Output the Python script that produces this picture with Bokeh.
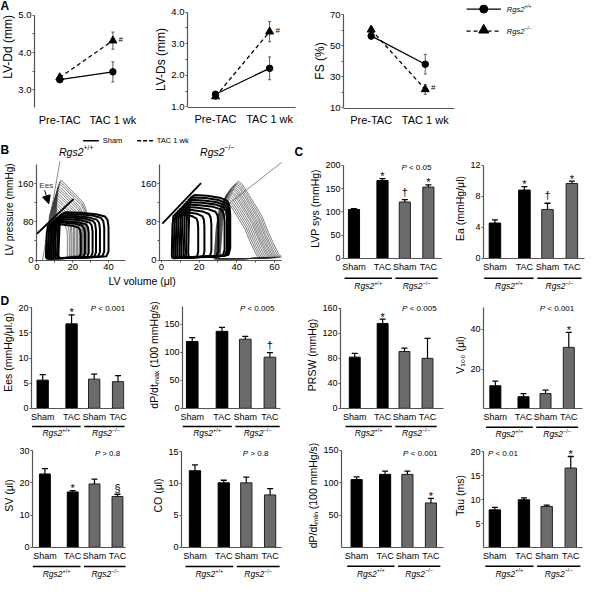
import math
from bokeh.plotting import figure
from bokeh.models import Range1d, FixedTicker, Label, Arrow, NormalHead, PrintfTickFormatter
from bokeh.layouts import row, column
from bokeh.embed import file_html
from bokeh.resources import INLINE

# ---------------- DATA ----------------
# Panel A (echo): mean and SEM, Pre-TAC / TAC 1 wk
a_x = [0, 1]
a_labels = ["Pre-TAC", "TAC 1 wk"]
lvdd_wt = [3.27, 3.48]
lvdd_wt_err = [0.06, 0.27]
lvdd_ko = [3.33, 4.32]
lvdd_ko_err = [0.08, 0.23]
lvds_wt = [1.40, 2.22]
lvds_wt_err = [0.07, 0.36]
lvds_ko = [1.33, 3.38]
lvds_ko_err = [0.09, 0.32]
fs_wt = [56.3, 38.1]
fs_wt_err = [2.2, 6.3]
fs_ko = [60.3, 21.9]
fs_ko_err = [1.8, 3.2]

# Panel B: PV loops, each loop described by ESV, EDV (ul) and top pressure (mmHg)
sham_wt_esv = [12.0, 11.2, 10.1, 9.2, 8.1, 7.2, 6.1, 5.0]
sham_wt_edv = [40.0, 37.6, 35.2, 33.0, 31.1, 28.9, 26.8, 24.5]
sham_wt_p = [100, 97, 93, 90, 86, 82, 79, 75]
tac_wt_esv = [9.6, 9.3, 9.0, 8.8, 8.5, 8.2, 8.0, 7.7, 7.4, 7.1, 6.9, 6.6, 6.3, 6.0, 5.8, 5.5]
tac_wt_edv = [28.0, 27.5, 27.0, 26.1, 25.5, 25.0, 24.1, 23.5, 22.6, 22.0, 21.1, 20.5, 19.6, 19.0, 18.1, 17.0]
tac_wt_p = [167, 163, 159, 154, 150, 146, 141, 137, 132, 128, 123, 119, 114, 110, 105, 100]
sham_ko_esv = [14.2, 13.0, 11.8, 10.6, 9.6, 8.5, 7.5, 6.5, 5.5]
sham_ko_edv = [36.5, 36.0, 35.4, 34.8, 33.5, 30.2, 26.5, 22.8, 19.5]
sham_ko_p = [136, 131, 126, 121, 116, 111, 106, 101, 96]
tac_ko_esv = [31.0, 30.8, 30.5, 30.3, 30.0, 29.7, 29.5, 29.2, 29.0, 28.7, 28.5, 28.2, 28.0, 27.8]
tac_ko_edv = [64.0, 63.0, 62.0, 61.2, 60.3, 59.5, 58.6, 57.8, 57.0, 56.0, 55.0, 54.0, 53.0, 52.0]
tac_ko_p = [165, 162, 159, 156, 152, 149, 146, 142, 139, 135, 131, 127, 123, 119]
# ESPVR lines (volume, pressure end points)
espvr_wt_sham = ([0.0, 20.5], [55, 128])
espvr_wt_tac = ([3.1, 12.9], [0, 207])
espvr_ko_sham = ([0.5, 21.0], [76, 161])
espvr_ko_tac = ([30.0, 64.0], [100, 205])
ees_arrow = ([4.3, 146], [6.6, 118])

# Panels C, D (bars): Rgs2+/+ Sham, TAC, Rgs2-/- Sham, TAC
bar_labels = ["Sham", "TAC", "Sham", "TAC"]
lvp_sys = [105, 167, 121, 153]
lvp_sys_err = [1.5, 4, 5, 5]
ea = [4.55, 8.8, 6.3, 9.65]
ea_err = [0.4, 0.45, 0.8, 0.3]
ees = [5.6, 16.8, 5.8, 5.3]
ees_err = [1.1, 1.8, 1.0, 1.2]
dpdt_max = [119, 137, 123, 91]
dpdt_max_err = [7, 7, 5, 8]
prsw = [82, 136, 91, 80]
prsw_err = [6, 7, 5.5, 32]
v100 = [11.6, 6.1, 7.7, 30.9]
v100_err = [2.3, 1.6, 1.7, 7.5]
sv = [22.8, 17.2, 19.7, 15.8]
sv_err = [1.7, 0.4, 1.5, 0.7]
co = [12.0, 10.1, 10.1, 8.2]
co_err = [0.9, 0.4, 0.9, 1.0]
dpdt_min = [105, 113, 113, 69]
dpdt_min_err = [4, 5, 5, 7]
tau = [7.9, 10.0, 8.6, 16.6]
tau_err = [0.5, 0.4, 0.3, 2.4]

# ---------------- LAYOUT HELPERS ----------------
FONT = "Liberation Sans"
bar_pos = [0.0, 1.15, 2.05, 3.0]

SX = 585.0 / 595.0
SY = 579.0 / 586.0
def LX(x): return int(round((x - 3) * SX))
def LY(y): return int(round((y - 4) * SY))
def rl(x): return (x - 3) * SX
def rt(y): return (y - 4) * SY

WEM = {' ': .278, '(': .333, ')': .333, '.': .278, '/': .278, '-': .333, '<': .584, '>': .584,
       'A': .667, 'B': .667, 'C': .722, 'D': .722, 'E': .667, 'F': .611, 'H': .722, 'L': .556,
       'O': .778, 'P': .667, 'R': .722, 'S': .667, 'T': .611, 'V': .667, 'W': .944,
       'a': .556, 'd': .556, 'e': .556, 'g': .556, 'h': .556, 'i': .222, 'k': .5, 'l': .222,
       'm': .833, 'n': .556, 'o': .556, 'p': .556, 'r': .333, 's': .5, 't': .278, 'u': .556,
       'v': .5, 'x': .5, 'y': .5, 'μ': .576, '%': .889, '+': .584, '−': .584, '#': .556}
def tw(s, size):
    return sum(WEM.get(c, 0.556) for c in s) * size

def rng(l0, l1, a, la, b, lb):
    k = (b - a) / (lb - la)
    return (a + (l0 - la) * k, a + (l1 - la) * k)

class Pn:
    def __init__(self, fig_x, fig_y, frame_x=None, frame_y=None, xr=(0, 1), yr=(0, 1), xaxis=False, yaxis=False):
        frame_x = frame_x or fig_x
        frame_y = frame_y or fig_y
        self.fx0, self.fx1 = LX(fig_x[0]), LX(fig_x[1])
        self.fy0, self.fy1 = LY(fig_y[0]), LY(fig_y[1])
        self.lx0, self.lx1 = LX(frame_x[0]), LX(frame_x[1])
        self.ly0, self.ly1 = LY(frame_y[0]), LY(frame_y[1])
        if callable(xr): xr = xr(self)
        if callable(yr): yr = yr(self)
        xro = xr if isinstance(xr, Range1d) else Range1d(*xr)
        yro = yr if isinstance(yr, Range1d) else Range1d(*yr)
        self.xr = (xro.start, xro.end)
        self.yr = (yro.start, yro.end)
        p = figure(width=self.fx1 - self.fx0, height=self.fy1 - self.fy0,
                   x_range=xro, y_range=yro,
                   output_backend="svg", toolbar_location=None, frame_align=False,
                   min_border_left=self.lx0 - self.fx0, min_border_right=self.fx1 - self.lx1,
                   min_border_top=self.ly0 - self.fy0, min_border_bottom=self.fy1 - self.ly1,
                   x_axis_location="below" if xaxis else None,
                   y_axis_location="left" if yaxis else None)
        p.outline_line_color = None
        p.grid.visible = False
        p.background_fill_color = "white"
        p.border_fill_color = "white"
        self.p = p
    def dx(self, lx):
        return self.xr[0] + (lx - self.lx0) / (self.lx1 - self.lx0) * (self.xr[1] - self.xr[0])
    def dy(self, ly):
        return self.yr[0] + (self.ly1 - ly) / (self.ly1 - self.ly0) * (self.yr[1] - self.yr[0])
    def lx(self, x):
        return self.lx0 + (x - self.xr[0]) / (self.xr[1] - self.xr[0]) * (self.lx1 - self.lx0)
    def ly(self, y):
        return self.ly1 - (y - self.yr[0]) / (self.yr[1] - self.yr[0]) * (self.ly1 - self.ly0)

def T(P, lx, ly, text, size, style="normal", align="center", base="middle", color="black", angle=0.0):
    P.p.add_layout(Label(x=P.dx(lx), y=P.dy(ly), text=text, text_font=FONT,
                         text_font_size="%.1fpx" % size, text_font_style=style,
                         text_align=align, text_baseline=base, text_color=color, angle=angle))

def HT(P, cx, cy, parts, align="center"):
    ws = [tw(t, s) for t, s, st, d in parts]
    x = cx - sum(ws) / 2 if align == "center" else cx
    for (t, s, st, d), w in zip(parts, ws):
        lead = len(t) - len(t.lstrip(" "))
        T(P, x + tw(" " * lead, s), cy + d, t.lstrip(" "), s, st, "left")
        x += w

def geno(sup, size=8.5):
    return [("Rgs2", size, "italic", 0), (sup, size * 0.65, "normal", -size * 0.38)]

AX = "#555555"
def style_y(p, ticks, bounds=None, minor=None, size="9px", fmt=None, overrides=None,
            label=None, lsize="11px", lstand=1, tick_out=2, standoff=1):
    ax = p.yaxis[0]
    ax.ticker = FixedTicker(ticks=ticks, minor_ticks=minor or [])
    if bounds is not None:
        ax.bounds = bounds
    ax.axis_line_color = AX
    ax.axis_line_width = 1.2
    ax.major_tick_line_color = AX
    ax.major_tick_out = tick_out
    ax.major_tick_in = 0
    ax.minor_tick_line_color = AX
    ax.minor_tick_out = 2
    ax.minor_tick_in = 0
    ax.major_label_text_font = FONT
    ax.major_label_text_font_size = size
    ax.major_label_standoff = standoff
    ax.major_label_text_color = "black"
    if fmt:
        ax.formatter = PrintfTickFormatter(format=fmt)
    if overrides:
        ax.major_label_overrides = overrides
    if label:
        ax.axis_label = label
        ax.axis_label_text_font = FONT
        ax.axis_label_text_font_size = lsize
        ax.axis_label_text_font_style = "normal"
        ax.axis_label_text_color = "black"
        ax.axis_label_standoff = lstand

def style_x(p, ticks, overrides, size="10px", line=True, tick_out=2, standoff=1):
    ax = p.xaxis[0]
    ax.ticker = FixedTicker(ticks=ticks)
    ax.major_label_overrides = overrides
    ax.axis_line_color = AX if line else None
    ax.axis_line_width = 1.2
    ax.major_tick_line_color = AX if tick_out else None
    ax.major_tick_out = tick_out
    ax.major_tick_in = 0
    ax.minor_tick_line_color = None
    ax.major_label_text_font = FONT
    ax.major_label_text_font_size = size
    ax.major_label_standoff = standoff
    ax.major_label_text_color = "black"

# ---------------- PANEL A (band y 4..137) ----------------
def a_panel(fig_x, fig_y, frame_x, frame_y, ya, ya_ref, yb, yb_ref, bounds, pre_ref, tac_ref,
            wt, wte, ko, koe, yticks, yminor, fmt, ylab, xline=True):
    P = Pn(fig_x, fig_y, frame_x, frame_y,
           lambda s: rng(s.lx0, s.lx1, 0, rl(pre_ref), 1, rl(tac_ref)),
           lambda s: rng(s.ly1, s.ly0, ya, rt(ya_ref), yb, rt(yb_ref)), xaxis=True, yaxis=True)
    p = P.p
    style_y(p, yticks, bounds=bounds, minor=yminor, size="9.5px", fmt=fmt, label=ylab, lsize="12px", lstand=0)
    style_x(p, [0, 1], {0: a_labels[0], 1: a_labels[1]}, size="11px", line=xline, tick_out=0, standoff=5)
    for vals, errs in ((wt, wte), (ko, koe)):
        lo = [v - e for v, e in zip(vals, errs)]
        hi = [v + e for v, e in zip(vals, errs)]
        p.segment(a_x, lo, a_x, hi, line_color="#333333", line_width=0.8)
        p.scatter(a_x + a_x, lo + hi, marker="dash", size=3, line_color="#333333", line_width=0.8)
    p.line(a_x, wt, line_color="black", line_width=1.3)
    p.line(a_x, ko, line_color="black", line_width=1.3, line_dash="4 3")
    p.scatter(a_x, wt, marker="circle", size=6.5, color="black")
    p.scatter(a_x, ko, marker="triangle", size=8, color="black")
    T(P, P.lx(1) + 8, P.ly(ko[1]) - 1.5, "#", 8)
    return P

ASL = Pn((3, 18), (4, 137))
T(ASL, rl(3), rt(9.5), "A", 12, "bold", "left")
T(ASL, rl(10.5), rt(51), "LV-Dd (mm)", 12, angle=math.pi / 2)
A1 = a_panel((18, 153), (4, 137), (36, 152), (18, 113), 3.0, 94.3, 5.0, 19, (2.53, 5.0), 61.7, 116.7,
             lvdd_wt, lvdd_wt_err, lvdd_ko, lvdd_ko_err, [3.0, 4.0, 5.0], [3.5, 4.5], "%.1f",
             None, xline=False)
A2 = a_panel((153, 310), (4, 137), (193, 303), (14.7, 112.7), 1.0, 111.7, 4.0, 15.7, (1.0, 4.0), 221.7, 276.7,
             lvds_wt, lvds_wt_err, lvds_ko, lvds_ko_err, [1.0, 2.0, 3.0, 4.0], [1.5, 2.5, 3.5], "%.1f",
             "LV-Ds (mm)")
A3 = a_panel((310, 468), (4, 137), (352, 465), (17.3, 113.7), 10, 112.7, 70, 18.3, (10, 70), 380, 435,
             fs_wt, fs_wt_err, fs_ko, fs_ko_err, [10, 30, 50, 70], [20, 40, 60], None,
             "FS (%)")

LG = Pn((468, 598), (4, 137))
lp = LG.p
lp.line([LG.dx(rl(477)), LG.dx(rl(512))], [LG.dy(rt(12.7))] * 2, line_color="black", line_width=1.3)
lp.scatter([LG.dx(rl(494.5))], [LG.dy(rt(12.7))], marker="circle", size=8, color="black")
lp.line([LG.dx(rl(477)), LG.dx(rl(512))], [LG.dy(rt(35))] * 2, line_color="black", line_width=1.3, line_dash="4 3")
lp.scatter([LG.dx(rl(494.5))], [LG.dy(rt(34))], marker="triangle", size=10, color="black")
HT(LG, rl(518), rt(12.7), geno("+/+", 7.5), align="left")
HT(LG, rl(518), rt(35), geno("−/−", 7.5), align="left")

band1 = row(ASL.p, A1.p, A2.p, A3.p, LG.p)

# ---------------- PANEL B (band y 137..299) ----------------
SHAM_U = [0.02, 0.30, 0.70, 0.96, 1.00, 1.00, 0.98, 0.93, 0.75, 0.45, 0.15, 0.06, 0.025, 0.01, 0.00, 0.02]
SHAM_V = [0.04, 0.05, 0.06, 0.08, 0.18, 0.70, 0.84, 0.91, 0.96, 0.99, 1.00, 0.96, 0.75, 0.40, 0.10, 0.04]
TAC1_U = [0.00, 0.40, 0.85, 1.00, 1.00, 0.97, 0.88, 0.70, 0.50, 0.32, 0.20, 0.13, 0.08, 0.04, 0.01, 0.00]
TAC1_V = [0.02, 0.03, 0.04, 0.08, 0.50, 0.64, 0.72, 0.80, 0.88, 0.96, 1.00, 0.93, 0.70, 0.40, 0.12, 0.02]
TAC2_U = [0.00, 0.50, 0.90, 1.00, 0.95, 0.88, 0.78, 0.68, 0.55, 0.45, 0.36, 0.30, 0.20, 0.10, 0.05, 0.02, 0.00]
TAC2_V = [0.02, 0.02, 0.03, 0.04, 0.07, 0.18, 0.35, 0.55, 0.72, 0.85, 0.96, 1.00, 0.93, 0.82, 0.55, 0.20, 0.02]

def loops(esv, edv, pk, tu, tv):
    xs, ys = [], []
    for a, b, c in zip(esv, edv, pk):
        xs.append([a + u * (b - a) for u in tu])
        ys.append([v * c for v in tv])
    return xs, ys

TS2 = Pn((3, 598), (137, 164))
T(TS2, rl(3), rt(155.5), "B", 12, "bold", "left")
T(TS2, rl(302), rt(157), "C", 12, "bold", "left")
HT(TS2, rl(80), rt(157), geno("+/+", 10.5))
HT(TS2, rl(223.5), rt(157), geno("−/−", 10.5))
TS2.p.line([TS2.dx(rl(87)), TS2.dx(rl(103))], [TS2.dy(rt(146))] * 2, line_color="black", line_width=1.4)
T(TS2, rl(107), rt(146), "Sham", 7.5, align="left")
TS2.p.line([TS2.dx(rl(142)), TS2.dx(rl(158))], [TS2.dy(rt(146))] * 2, line_color="black", line_width=1.4, line_dash="4 2")
T(TS2, rl(162), rt(146), "TAC 1 wk", 7.5, align="left")

def b_panel(fig_x, frame_x, x0_ref, xb, xb_ref, xticks, xover, ylab=None):
    P = Pn(fig_x, (164, 281), frame_x, (164, 266.7),
           lambda s: rng(s.lx0, s.lx1, 0, rl(x0_ref), xb, rl(xb_ref)),
           lambda s: rng(s.ly1, s.ly0, 0, rt(266.7), 160, rt(189.3)), xaxis=True, yaxis=True)
    style_y(P.p, [0, 40, 80, 120, 160], bounds=(0, 200), size="9.5px", overrides={40: "", 120: ""},
            label=ylab, lsize="10px", lstand=0)
    style_x(P.p, xticks, xover, size="9.5px")
    return P

B1 = b_panel((3, 131), (34, 130), 34, 40, 111.7, [0, 10, 20, 30, 40, 50], {10: "", 30: "", 50: ""},
             ylab="LV pressure (mmHg)")
p = B1.p
xs, ys = loops(tac_wt_esv, tac_wt_edv, tac_wt_p, TAC1_U, TAC1_V)
p.multi_line(xs, ys, line_color="#2a2a2a", line_width=0.6)
p.line(*espvr_wt_tac, line_color="#555555", line_width=0.7)
xs, ys = loops(sham_wt_esv, sham_wt_edv, sham_wt_p, SHAM_U, SHAM_V)
p.multi_line(xs, ys, line_color="black", line_width=2.0)
p.line(*espvr_wt_sham, line_color="black", line_width=1.8)
p.add_layout(Arrow(end=NormalHead(size=8, fill_color="black", line_color="black"),
                   x_start=ees_arrow[0][0], y_start=ees_arrow[0][1],
                   x_end=ees_arrow[1][0], y_end=ees_arrow[1][1], line_color="black", line_width=1))
T(B1, B1.lx(5.2), B1.ly(156), "Ees", 8, color="#333333")

B2 = b_panel((131, 300), (165, 288.5), 166.7, 60, 281.7, [0, 10, 20, 30, 40, 50, 60], {10: "", 30: "", 50: ""})
p = B2.p
xs, ys = loops(tac_ko_esv, tac_ko_edv, tac_ko_p, TAC2_U, TAC2_V)
p.multi_line(xs, ys, line_color="#2a2a2a", line_width=0.6)
p.line(*espvr_ko_tac, line_color="#555555", line_width=0.7)
xs, ys = loops(sham_ko_esv, sham_ko_edv, sham_ko_p, SHAM_U, SHAM_V)
p.multi_line(xs, ys, line_color="black", line_width=2.0)
p.line(*espvr_ko_sham, line_color="black", line_width=1.8)

BV = Pn((3, 300), (281, 299))
T(BV, rl(147), rt(288), "LV volume (μl)", 10.5)

# ---------------- BAR PANELS ----------------
def bar_panel(fig_x, fig_y0, main_bot, band_bot, frame_top, offs, frame_x, ytop_ref, yzero_ref, top,
              first_ref, last_ref, vals, errs, yticks, ylab, ptxt, ptxt_c, marks, lsize="10.5px"):
    M = Pn(fig_x, (fig_y0, main_bot), frame_x, (frame_top, yzero_ref),
           lambda s: rng(s.lx0, s.lx1, bar_pos[0], rl(first_ref), bar_pos[-1], rl(last_ref)),
           lambda s: rng(s.ly1, s.ly0, 0, rt(yzero_ref), top, rt(ytop_ref)),
           xaxis=True, yaxis=True)
    p = M.p
    style_y(p, yticks, bounds=(0, top), size="9px", label=ylab, lsize=lsize, lstand=1)
    style_x(p, bar_pos, {pos: lab for pos, lab in zip(bar_pos, bar_labels)}, size="9px",
            tick_out=0, standoff=3)
    p.vbar(x=bar_pos[:2], top=vals[:2], width=0.45, fill_color="black", line_color="black")
    p.vbar(x=bar_pos[2:], top=vals[2:], width=0.45, fill_color="#6b6b6b", line_color="#222222", line_width=1)
    tops = [v + e for v, e in zip(vals, errs)]
    p.segment(bar_pos, vals, bar_pos, tops, line_color="black", line_width=1.2)
    p.scatter(bar_pos, tops, marker="dash", size=6, line_color="black", line_width=1.3)
    for i, sym in marks.items():
        up = {"*": 2.5, "†": 8.0, "§": 6.5}[sym]
        T(M, M.lx(bar_pos[i]), M.ly(tops[i]) - up, sym, 11)
    if ptxt:
        HT(M, rl(ptxt_c[0]), rt(ptxt_c[1]), [("P", 8, "italic", 0), (ptxt, 8, "normal", 0)])
    G = Pn(fig_x, (main_bot, band_bot), frame_x, (main_bot, band_bot), xr=p.x_range, yr=(0, 1))
    uy = G.dy(rt(yzero_ref + offs[1]))
    G.p.segment([bar_pos[0] - 0.38, bar_pos[2] - 0.38], [uy, uy],
                [bar_pos[1] + 0.38, bar_pos[3] + 0.38], [uy, uy], line_color="black", line_width=1.5)
    HT(G, G.lx((bar_pos[0] + bar_pos[1]) / 2), rt(yzero_ref + offs[2]), geno("+/+"))
    HT(G, G.lx((bar_pos[2] + bar_pos[3]) / 2), rt(yzero_ref + offs[2]), geno("−/−"))
    return M, G

OC = (10, 20, 27.7)
O3 = (9.5, 18.5, 25.5)
O4 = (9, 17.5, 25)

C1 = bar_panel((300, 462), 164, 283, 299, 164, OC, (351.7, 451.7), 170.7, 265, 200, 362.5, 438.2,
               lvp_sys, lvp_sys_err, [0, 50, 100, 150, 200], "LVP sys (mmHg)",
               " < 0.05", (426, 173), {1: "*", 2: "†", 3: "*"})
C2 = bar_panel((462, 598), 164, 283, 299, 164, OC, (493.3, 596.7), 170.7, 265, 12, 505, 584,
               ea, ea_err, [0, 4, 8, 12], "Ea (mmHg/μl)",
               None, None, {1: "*", 2: "†", 3: "*"})

band2 = column(TS2.p, row(column(row(B1.p, B2.p), BV.p),
                          column(C1[0].p, C1[1].p), column(C2[0].p, C2[1].p)))

DSL = Pn((3, 18), (299, 451))
T(DSL, rl(3), rt(308), "D", 12, "bold", "left")
T(DSL, rl(10.5), rt(360), "Ees (mmHg/μl.g)", 10.5, angle=math.pi / 2)
D1 = bar_panel((18, 150), 299, 433, 451, 309, O3, (33.3, 129), 315, 416.7, 20, 45, 122.5,
               ees, ees_err, [0, 5, 10, 15, 20], None,
               " < 0.001", (112, 316), {1: "*"})
D2 = bar_panel((150, 310), 299, 433, 451, 309, O3, (188.3, 288), 313.3, 416.7, 182, 198, 277,
               dpdt_max, dpdt_max_err, [0, 50, 100, 150], "dP/dtₘₐₓ (100 mmHg/s)",
               " < 0.005", (264, 316), {3: "†"})
D3 = bar_panel((310, 462), 299, 433, 451, 309, O3, (349, 454), 315.7, 416.7, 160, 363.3, 437.3,
               prsw, prsw_err, [0, 40, 80, 120, 160], "PRSW (mmHg)",
               " < 0.005", (429, 316), {1: "*"})
D4 = bar_panel((462, 598), 299, 433, 451, 309, O3, (494.3, 595), 315, 417.3, 50.8, 506.3, 581,
               v100, v100_err, [0, 20, 40], "V₁₀₀ (μl)",
               " < 0.001", (569, 316), {3: "*"})

band3 = row(DSL.p, column(D1[0].p, D1[1].p), column(D2[0].p, D2[1].p),
            column(D3[0].p, D3[1].p), column(D4[0].p, D4[1].p))

D5 = bar_panel((3, 150), 451, 574, 590, 452, O4, (32.3, 130), 460, 559.3, 30, 45.5, 121.7,
               sv, sv_err, [0, 10, 20, 30], "SV (μl)",
               " > 0.8", (111, 463), {1: "*", 3: "§"})
D6 = bar_panel((150, 310), 451, 574, 590, 452, O4, (186.7, 288.3), 460.7, 559.3, 15, 200.8, 277.2,
               co, co_err, [0, 5, 10, 15], "CO (μl)",
               " > 0.8", (262.5, 463), {})
D7 = bar_panel((310, 462), 451, 574, 590, 452, O4, (350, 454), 459.3, 559, 150, 365.2, 440.8,
               dpdt_min, dpdt_min_err, [0, 50, 100, 150], "dP/dtₘᵢₙ (100 mmHg/s)",
               " < 0.001", (430, 463), {3: "*"})
D8 = bar_panel((462, 598), 451, 574, 590, 452, O4, (494.3, 595), 460.7, 559, 20, 505.8, 583,
               tau, tau_err, [0, 5, 10, 15, 20], "Tau (ms)",
               " < 0.01", (514, 463), {3: "*"})

band4 = row(column(D5[0].p, D5[1].p), column(D6[0].p, D6[1].p),
            column(D7[0].p, D7[1].p), column(D8[0].p, D8[1].p))

layout = column(band1, band2, band3, band4)

open("out.html", "w").write(file_html(layout, INLINE, "Rgs2 figure"))
